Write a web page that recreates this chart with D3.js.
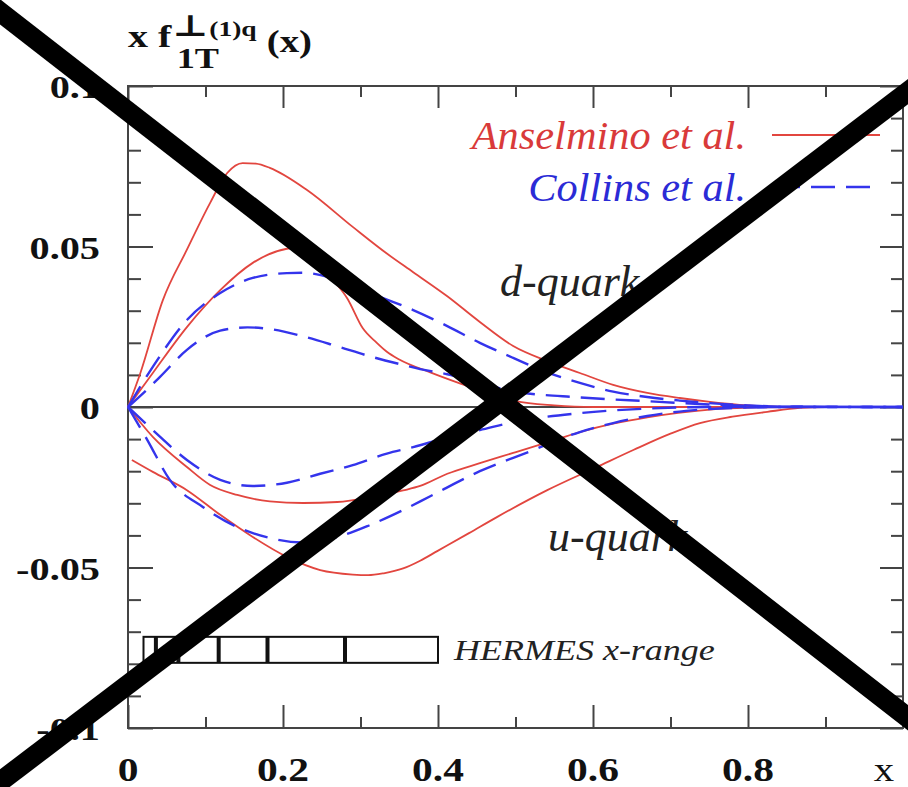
<!DOCTYPE html>
<html>
<head>
<meta charset="utf-8">
<script src="https://cdn.jsdelivr.net/npm/d3@7"></script>
<style>
    html, body { margin: 0; padding: 0; background: #fff; }
    svg { display: block; }
    .frame { fill: none; stroke: #444; stroke-width: 2; }
    .tick line { stroke: #444; stroke-width: 2; }
    .zero-line { stroke: #444; stroke-width: 1.8; }
    .anselmino-line { fill: none; stroke: #e2463f; stroke-width: 1.8; }
    .collins-line { fill: none; stroke: #3434ec; stroke-width: 2.4; stroke-dasharray: 24 11; }
    .tick-label { font-family: "Liberation Serif", "Times New Roman", serif; font-weight: bold; fill: #111; }
    .title { font-family: "Liberation Serif", "DejaVu Serif", serif; font-weight: bold; fill: #111; }
    .legend-text { font-family: "Liberation Serif", serif; font-style: italic; font-size: 40px; }
    .quark-text { font-family: "Liberation Serif", serif; font-style: italic; font-size: 44px; fill: #222; }
    .hermes-text { font-family: "Liberation Serif", serif; font-style: italic; font-size: 30px; fill: #222; }
    .cross { stroke: #000; stroke-width: 20; stroke-linecap: square; }
</style>
</head>
<body>
<svg width="908" height="787"></svg>
<script>
// Tick values and labels
var xMajorTicks = [0, 0.2, 0.4, 0.6, 0.8],
    xMinorTicks = [0.1, 0.3, 0.5, 0.7, 0.9],
    xTickLabels = ["0", "0.2", "0.4", "0.6", "0.8"];
var yMajorTicks = [-0.1, -0.05, 0, 0.05, 0.1],
    yMinorTicks = [-0.09, -0.08, -0.07, -0.06, -0.04, -0.03, -0.02, -0.01,
                   0.01, 0.02, 0.03, 0.04, 0.06, 0.07, 0.08, 0.09],
    yTickLabels = ["-0.1", "-0.05", "0", "0.05", "0.1"];

// Anselmino et al. (solid red), [x, x f(x)]
var anselminoD1 = [[0, 0], [0.016, 0.0106], [0.045, 0.0333], [0.076, 0.049], [0.106, 0.0636],
    [0.128, 0.0729], [0.148, 0.076], [0.165, 0.0758], [0.183, 0.0745], [0.231, 0.0676],
    [0.29, 0.0561], [0.334, 0.0478], [0.368, 0.042], [0.412, 0.0345], [0.454, 0.0265],
    [0.497, 0.019], [0.541, 0.0143], [0.583, 0.0106], [0.626, 0.0069], [0.67, 0.0044],
    [0.712, 0.0028], [0.751, 0.0016], [0.8, 0.0005], [0.85, 0], [1, 0]];
var anselminoD2 = [[0, 0], [0.032, 0.0106], [0.076, 0.0249], [0.119, 0.0364], [0.161, 0.0449],
    [0.205, 0.0493], [0.225, 0.0497], [0.24, 0.048], [0.265, 0.0396], [0.283, 0.0338],
    [0.303, 0.0245], [0.321, 0.02], [0.334, 0.0172], [0.35, 0.0148], [0.39, 0.0108],
    [0.43, 0.0072], [0.47, 0.0038], [0.5, 0.0018], [0.55, 0.0005], [0.6, 0], [1, 0]];
var anselminoU1 = [[0, 0], [0.032, -0.0093], [0.076, -0.0187], [0.106, -0.0243], [0.141, -0.0274],
    [0.183, -0.0294], [0.226, -0.0299], [0.27, -0.0296], [0.312, -0.0282], [0.355, -0.026],
    [0.377, -0.0246], [0.412, -0.0208], [0.454, -0.0175], [0.497, -0.0143], [0.541, -0.011],
    [0.583, -0.0078], [0.626, -0.0052], [0.67, -0.0032], [0.71, -0.0018], [0.751, -0.0008],
    [0.8, -0.0002], [0.85, 0], [1, 0]];
var anselminoU2 = [[0.005, -0.0165], [0.032, -0.0202], [0.076, -0.0259], [0.119, -0.0336],
    [0.161, -0.0405], [0.205, -0.0467], [0.248, -0.0508], [0.29, -0.0522], [0.31, -0.0524],
    [0.33, -0.0518], [0.355, -0.0503], [0.377, -0.0479], [0.399, -0.0449], [0.44, -0.0393],
    [0.476, -0.0343], [0.541, -0.0259], [0.605, -0.0187], [0.652, -0.0134], [0.7, -0.0083],
    [0.738, -0.005], [0.78, -0.003], [0.825, -0.0015], [0.867, -0.0003], [0.9, 0], [1, 0]];

// Collins et al. (dashed blue)
var collinsD1 = [[0, 0], [0.032, 0.0125], [0.076, 0.0271], [0.119, 0.0355], [0.161, 0.0402],
    [0.205, 0.0417], [0.226, 0.0418], [0.27, 0.0396], [0.325, 0.0343], [0.368, 0.0302],
    [0.412, 0.0252], [0.454, 0.02], [0.497, 0.0153], [0.541, 0.0108], [0.583, 0.0075],
    [0.626, 0.0048], [0.67, 0.0031], [0.712, 0.002], [0.75, 0.0012], [0.8, 0.0005],
    [0.85, 0.0001], [1, 0]];
var collinsD2 = [[0, 0], [0.024, 0.0053], [0.041, 0.0093], [0.076, 0.0178], [0.119, 0.0238],
    [0.154, 0.0248], [0.183, 0.0243], [0.226, 0.022], [0.27, 0.0189], [0.312, 0.0158],
    [0.355, 0.0131], [0.377, 0.0118], [0.412, 0.0102], [0.454, 0.0075], [0.497, 0.0049],
    [0.583, 0.003], [0.67, 0.0018], [0.75, 0.0008], [0.85, 0.0001], [1, 0]];
var collinsU1 = [[0, 0], [0.032, -0.0072], [0.076, -0.0165], [0.119, -0.0227], [0.161, -0.0246],
    [0.205, -0.0236], [0.248, -0.0208], [0.29, -0.0181], [0.334, -0.0145], [0.368, -0.0125],
    [0.412, -0.0095], [0.454, -0.0072], [0.497, -0.0047], [0.583, -0.0019], [0.67, -0.0005],
    [0.75, 0], [1, 0]];
var collinsU2 = [[0, 0], [0.025, -0.0103], [0.054, -0.0227], [0.097, -0.0312], [0.141, -0.0374],
    [0.183, -0.0408], [0.226, -0.0422], [0.27, -0.0405], [0.312, -0.0368], [0.355, -0.0321],
    [0.39, -0.0278], [0.454, -0.02], [0.519, -0.0138], [0.583, -0.0078], [0.626, -0.005],
    [0.67, -0.0028], [0.72, -0.0012], [0.78, -0.0003], [0.85, 0], [1, 0]];

// HERMES x-range box: bin edges in x, vertical extent in y
var hermesBins = [0.02, 0.036, 0.065, 0.117, 0.18, 0.28, 0.4],
    hermesY = [-0.0716, -0.0797];

// SVG settings
var svg = d3.select("svg"),
    W = +svg.attr("width"),
    H = +svg.attr("height");
var plot = { left: 128, right: 903, top: 86, bottom: 728 };

var xScale = d3.scaleLinear().domain([0, 1]).range([plot.left, plot.right]),
    yScale = d3.scaleLinear().domain([-0.1, 0.1]).range([plot.bottom, plot.top]);

// Ticks on all four sides, pointing inward
function ticks(axis, vals, size, transform) {
    svg.append("g")
        .attr("transform", transform)
        .call(axis.tickValues(vals).tickSize(-size).tickSizeOuter(0).tickFormat(""))
        .call(g => g.select(".domain").remove());
}
ticks(d3.axisBottom(xScale), xMajorTicks, 23, "translate(0," + plot.bottom + ")");
ticks(d3.axisBottom(xScale), xMinorTicks, 11, "translate(0," + plot.bottom + ")");
ticks(d3.axisTop(xScale), xMajorTicks, 22, "translate(0," + plot.top + ")");
ticks(d3.axisTop(xScale), xMinorTicks, 11, "translate(0," + plot.top + ")");
ticks(d3.axisLeft(yScale), yMajorTicks, 25, "translate(" + plot.left + ",0)");
ticks(d3.axisLeft(yScale), yMinorTicks, 13, "translate(" + plot.left + ",0)");
ticks(d3.axisRight(yScale), yMajorTicks, 23, "translate(" + plot.right + ",0)");
ticks(d3.axisRight(yScale), yMinorTicks, 12, "translate(" + plot.right + ",0)");

svg.append("rect")
    .attr("class", "frame")
    .attr("x", plot.left).attr("y", plot.top)
    .attr("width", plot.right - plot.left)
    .attr("height", plot.bottom - plot.top);

// Tick labels (the original is stretched horizontally)
svg.selectAll(".ylab")
    .data(yMajorTicks)
    .enter().append("text")
    .attr("class", "tick-label")
    .attr("text-anchor", "end")
    .style("font-size", "31px")
    .attr("transform", d => "translate(100," + (yScale(d) + 12) + ") scale(1.3,1)")
    .text((d, i) => yTickLabels[i]);

svg.selectAll(".xlab")
    .data(xMajorTicks)
    .enter().append("text")
    .attr("class", "tick-label")
    .attr("text-anchor", "middle")
    .style("font-size", "34px")
    .attr("transform", d => "translate(" + xScale(d) + ",781) scale(1.22,1)")
    .text((d, i) => xTickLabels[i]);

svg.append("text")
    .attr("class", "tick-label")
    .attr("text-anchor", "middle")
    .style("font-size", "34px")
    .style("font-weight", "normal")
    .attr("transform", "translate(884,781) scale(1.2,1)")
    .text("x");

// Title x f_1T^{perp(1)q}(x)
var title = svg.append("g").attr("transform", "translate(128,0) scale(1.25,1)");
title.append("text").attr("class", "title").attr("x", 0).attr("y", 47).style("font-size", "32px").text("x f");
title.append("text").attr("class", "title").attr("x", 50).attr("y", 36).attr("text-anchor", "middle")
    .style("font-size", "30px").style("font-family", "DejaVu Serif").text("\u22A5");
title.append("text").attr("class", "title").attr("x", 39).attr("y", 68).style("font-size", "29px").text("1T");
title.append("text").attr("class", "title").attr("x", 65).attr("y", 36).style("font-size", "22px").text("(1)q");
title.append("text").attr("class", "title").attr("x", 111).attr("y", 52).style("font-size", "31px").text("(x)");

// Zero line
svg.append("line")
    .attr("class", "zero-line")
    .attr("x1", xScale(0)).attr("x2", xScale(1))
    .attr("y1", yScale(0)).attr("y2", yScale(0));

// Curves
var line = d3.line()
    .x(d => xScale(d[0]))
    .y(d => yScale(d[1]))
    .curve(d3.curveMonotoneX);

[anselminoD1, anselminoD2, anselminoU1, anselminoU2].forEach(function (pts) {
    svg.append("path").datum(pts).attr("class", "anselmino-line").attr("d", line);
});
[collinsD1, collinsD2, collinsU1, collinsU2].forEach(function (pts) {
    svg.append("path").datum(pts).attr("class", "collins-line").attr("d", line);
});

// Legend
svg.append("text").attr("class", "legend-text").attr("text-anchor", "end")
    .attr("transform", "translate(746,149) scale(1.06,1)")
    .style("fill", "#d93a3a").text("Anselmino et al.");
svg.append("text").attr("class", "legend-text").attr("text-anchor", "end")
    .attr("transform", "translate(746,201) scale(1.06,1)")
    .style("fill", "#2b2bd6").text("Collins et al.");
svg.append("line").attr("class", "anselmino-line")
    .attr("x1", 772).attr("x2", 880).attr("y1", 135).attr("y2", 135);
svg.append("line").attr("class", "collins-line")
    .attr("x1", 776).attr("x2", 880).attr("y1", 187).attr("y2", 187);

// Quark labels
svg.append("text").attr("class", "quark-text").attr("x", 500).attr("y", 296).text("d-quark");
svg.append("text").attr("class", "quark-text").attr("x", 548).attr("y", 551).text("u-quark");

// HERMES x-range box
svg.append("rect")
    .attr("x", xScale(hermesBins[0]))
    .attr("y", yScale(hermesY[0]))
    .attr("width", xScale(hermesBins[hermesBins.length - 1]) - xScale(hermesBins[0]))
    .attr("height", yScale(hermesY[1]) - yScale(hermesY[0]))
    .style("fill", "none").style("stroke", "#111").style("stroke-width", 2);
svg.selectAll(".hermes-bin")
    .data(hermesBins.slice(1, -1))
    .enter().append("line")
    .attr("x1", d => xScale(d)).attr("x2", d => xScale(d))
    .attr("y1", yScale(hermesY[0])).attr("y2", yScale(hermesY[1]))
    .style("stroke", "#111").style("stroke-width", 4);
svg.append("text").attr("class", "hermes-text")
    .attr("transform", "translate(454,660) scale(1.2,1)")
    .text("HERMES x-range");

// Big cross drawn over the whole picture
var crossOut = [
    [[0, 0.015], [1, 0.912]],
    [[0, 0.9934], [1, 0.1165]]
];
svg.selectAll(".cross")
    .data(crossOut)
    .enter().append("line")
    .attr("class", "cross")
    .attr("x1", d => d[0][0] * W).attr("y1", d => d[0][1] * H)
    .attr("x2", d => d[1][0] * W).attr("y2", d => d[1][1] * H);
</script>
</body>
</html>
